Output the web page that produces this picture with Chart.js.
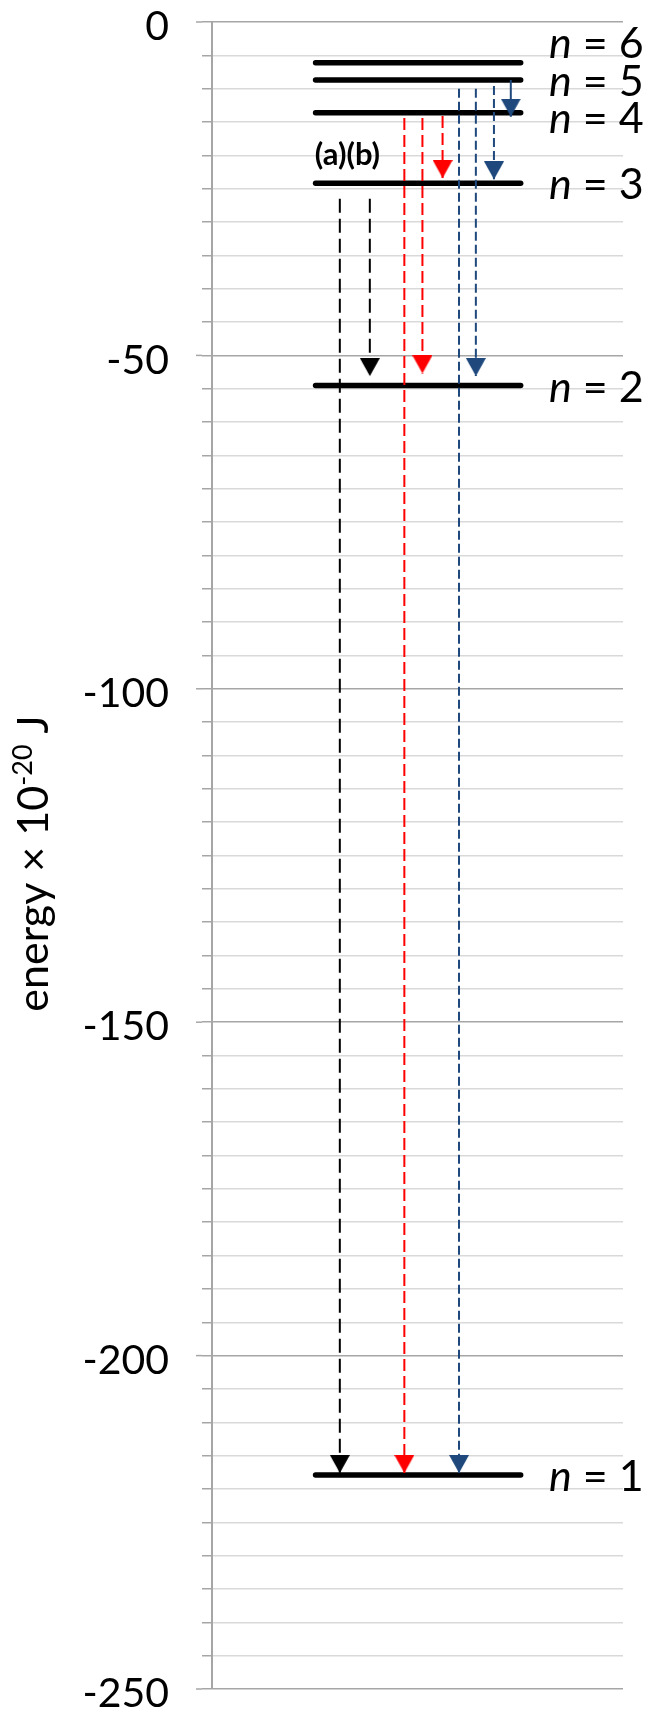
<!DOCTYPE html>
<html>
<head>
<meta charset="utf-8">
<script src="https://cdn.jsdelivr.net/npm/chart.js@4/dist/chart.umd.min.js"></script>
<style>
  html, body { margin: 0; padding: 0; background: #fff; }
  #wrap { width: 645px; height: 1714px; }
</style>
</head>
<body>
<div id="wrap"><canvas id="chart"></canvas></div>
<script>
// energy levels of the hydrogen atom, in units of 10^-20 J
const levelNames = ['1', '2', '3', '4', '5', '6'];
const levelEnergy = [-217.9, -54.5, -24.2, -13.6, -8.7, -6.1];
const labelEnergy = [-218.3, -54.9, -24.4, -14.5, -9.0, -3.3];
const levelSpan = [25.2, 75.1];
const labelX = 82;

// transitions (downward arrows): upper level, start, arrow tip, x position
const transFrom = [3, 3, 4, 4, 4, 5, 5, 5, 5];
const transStart = [-26.5, -26.5, -14.4, -14.4, -14.1, -10.0, -10.0, -9.6, -8.7];
const transEnd = [-217.6, -53.1, -217.6, -52.7, -23.4, -217.6, -53.1, -23.6, -14.2];
const transX = [31.1, 38.4, 46.8, 51.2, 56.1, 60.1, 64.2, 68.6, 72.7];

const groupLabel = '(a)(b)';
const groupLabelAt = [25.0, -20];

const axisTitle = ['energy \u00d7 10', '-20', ' J'];

const groupColor = { 3: '#000000', 4: '#FF0000', 5: '#1F497D' };
const groupDash = { 3: [14, 6], 4: [12, 5], 5: [9, 4] };

const arrowHead = (color) => {
  const c = document.createElement('canvas');
  c.width = 20;
  c.height = 36;
  const g = c.getContext('2d');
  g.fillStyle = color;
  g.beginPath();
  g.moveTo(0, 0);
  g.lineTo(20, 0);
  g.lineTo(10, 18);
  g.closePath();
  g.fill();
  return c;
};
const heads = {};
Object.keys(groupColor).forEach((k) => { heads[k] = arrowHead(groupColor[k]); });

const levelSets = levelEnergy.map((e) => ({
  data: [{ x: levelSpan[0], y: e }, { x: levelSpan[1], y: e }],
  borderColor: '#000',
  borderWidth: 5.5,
  borderCapStyle: 'round',
  pointRadius: 0,
  order: 1,
}));

const transSets = transX.map((x, i) => {
  const g = transFrom[i];
  const short = transStart[i] - transEnd[i] < 6;
  return {
    data: [{ x: x, y: transStart[i] }, { x: x, y: transEnd[i] }],
    borderColor: groupColor[g],
    borderWidth: 2,
    borderDash: short ? [] : groupDash[g],
    pointRadius: [0, 1],
    pointStyle: ['circle', heads[g]],
    order: 0,
  };
});

const isMajor = (v) => Math.round(v) % 50 === 0;

const annotations = {
  id: 'annotations',
  afterDraw(chart) {
    const { ctx } = chart;
    const xs = chart.scales.x;
    const ys = chart.scales.y;

    // longer tick marks at the major values
    ctx.save();
    ctx.strokeStyle = '#A6A6A6';
    ctx.lineWidth = 1.5;
    ys.ticks.forEach((t) => {
      if (!isMajor(t.value)) return;
      const py = ys.getPixelForValue(t.value);
      ctx.beginPath();
      ctx.moveTo(ys.right - 16, py);
      ctx.lineTo(ys.right - 10, py);
      ctx.stroke();
    });
    ctx.restore();

    // level labels
    ctx.save();
    ctx.fillStyle = '#000';
    ctx.textBaseline = 'middle';
    ctx.textAlign = 'left';
    levelNames.forEach((name, i) => {
      const px = xs.getPixelForValue(labelX);
      const py = ys.getPixelForValue(labelEnergy[i]);
      ctx.font = 'italic 43px Lato';
      ctx.fillText('n', px, py);
      const w = ctx.measureText('n').width;
      ctx.font = '43px Lato';
      ctx.fillText(' = ' + name, px + w, py);
    });

    // (a)(b)
    ctx.font = 'bold 31px Lato';
    ctx.fillText(groupLabel, xs.getPixelForValue(groupLabelAt[0]), ys.getPixelForValue(groupLabelAt[1]));
    ctx.restore();

    // axis title with superscript
    ctx.save();
    ctx.fillStyle = '#000';
    ctx.textBaseline = 'alphabetic';
    ctx.textAlign = 'left';
    const mainFont = '43px Lato';
    const supFont = '27px Lato';
    ctx.font = mainFont;
    const w0 = ctx.measureText(axisTitle[0]).width;
    const w2 = ctx.measureText(axisTitle[2]).width;
    ctx.font = supFont;
    const w1 = ctx.measureText(axisTitle[1]).width;
    const total = w0 + w1 + w2;
    ctx.translate(48, (chart.chartArea.top + chart.chartArea.bottom) / 2 + 8);
    ctx.rotate(-Math.PI / 2);
    const x0 = -total / 2;
    ctx.font = mainFont;
    ctx.fillText(axisTitle[0], x0, 0);
    ctx.font = supFont;
    ctx.fillText(axisTitle[1], x0 + w0, -16);
    ctx.font = mainFont;
    ctx.fillText(axisTitle[2], x0 + w0 + w1, 0);
    ctx.restore();
  },
};

const chart = new Chart(document.getElementById('chart'), {
  type: 'line',
  data: { datasets: levelSets.concat(transSets) },
  options: {
    responsive: true,
    maintainAspectRatio: false,
    animation: false,
    events: [],
    clip: false,
    layout: { padding: { top: 22, bottom: 25, right: 22, left: 0 } },
    plugins: {
      legend: { display: false },
      tooltip: { enabled: false },
    },
    scales: {
      x: { type: 'linear', min: 0, max: 100, display: false },
      y: {
        min: -250,
        max: 0,
        afterFit: (s) => {
          s.width = 212;
          s.paddingTop = 0;
          s.paddingBottom = 0;
        },
        border: { color: '#A6A6A6', width: 2 },
        grid: {
          color: (c) => (c.tick && isMajor(c.tick.value) ? '#A6A6A6' : '#D9D9D9'),
          lineWidth: 1.5,
          tickLength: 10,
          tickColor: '#A6A6A6',
          tickWidth: 1.5,
        },
        ticks: {
          stepSize: 5,
          autoSkip: false,
          padding: 33,
          labelOffset: 5,
          color: '#000',
          font: { family: 'Lato', size: 41, lineHeight: 1 },
          callback: (v) => (isMajor(v) ? String(v) : ''),
        },
      },
    },
  },
  plugins: [annotations],
});
</script>
</body>
</html>
